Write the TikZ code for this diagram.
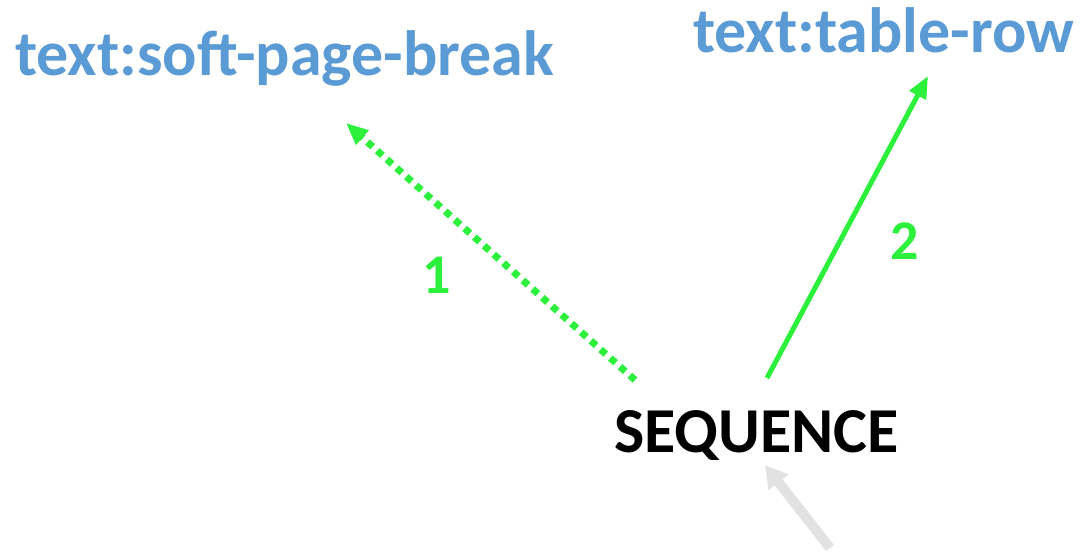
\documentclass[tikz,border=0pt]{standalone}
\usepackage{fontspec}
\setmainfont{Carlito}
\usetikzlibrary{arrows.meta}
\definecolor{lblue}{HTML}{5B9BD5}
\definecolor{lgreen}{HTML}{2CF03C}
\definecolor{lgray}{HTML}{E2E2E2}
\tikzset{
  title/.style={font=\fontsize{64}{76}\selectfont\bfseries, text=lblue, inner sep=0pt, anchor=base west},
  seqlabel/.style={font=\fontsize{64}{76}\selectfont\bfseries, text=black, inner sep=0pt, anchor=base west},
  numlabel/.style={font=\fontsize{56}{66}\selectfont\bfseries, text=lgreen, inner sep=0pt},
  conn/.style={draw=lgreen, line width=5pt, -{Triangle[length=22pt,width=18pt]}},
  dotconn/.style={conn, line width=7pt, dash pattern=on 7pt off 6pt},
  grayconn/.style={draw=lgray, line width=10pt, -{Triangle[length=22pt,width=24pt]}}
}
\begin{document}
\begin{tikzpicture}[x=1pt,y=-1pt]
\useasboundingbox (0,0) rectangle (1082,553);
\node[title] (spb) at (15,76) {text:soft-page-break};
\node[title] (trow) at (693,53) {text:table-row};
\node[seqlabel] (seq) at (614,452) {SEQUENCE};
\coordinate (s1) at (635,380);
\coordinate (e1) at (346,123);
\coordinate (s2) at (767,378);
\coordinate (e2) at (928,76);
\coordinate (s3) at (830,548);
\coordinate (e3) at (765,465);
\draw[dotconn] (s1) -- (e1);
\draw[conn] (s2) -- (e2);
\draw[grayconn] (s3) -- (e3);
\node[numlabel] (n1) at (437,275) {1};
\node[numlabel] (n2) at (905,241) {2};
\end{tikzpicture}
\end{document}
